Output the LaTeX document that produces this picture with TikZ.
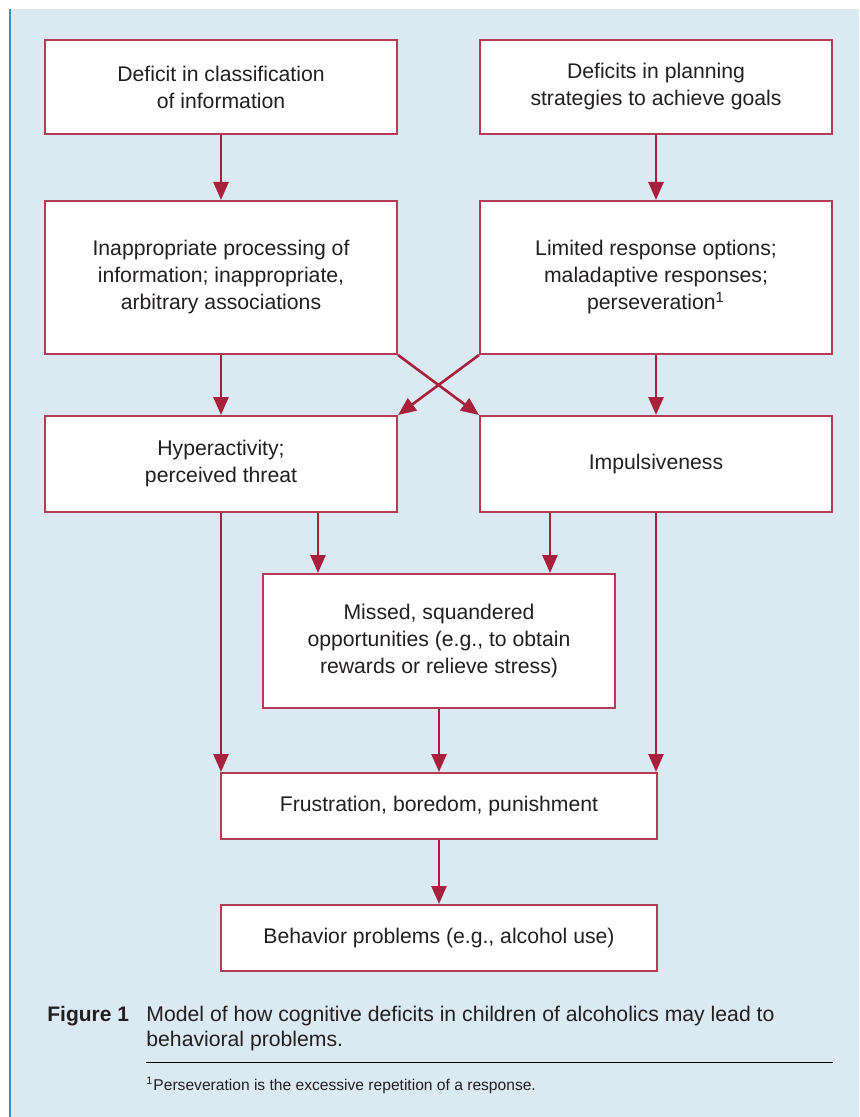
\documentclass[tikz,border=0pt]{standalone}
\usepackage{fontspec}
\setmainfont{Liberation Sans}
\usetikzlibrary{arrows.meta}
\definecolor{bgblue}{HTML}{DAE9F2}
\definecolor{edgeblue}{HTML}{3E90C2}
\definecolor{boxred}{HTML}{B73A57}
\definecolor{arrowred}{HTML}{A8203C}
\definecolor{textgray}{HTML}{231F20}

\begin{document}
\begin{tikzpicture}[x=0.5pt, y=-0.5pt,
  box/.style={draw=boxred, fill=white, line width=1pt, align=center, inner sep=0pt,
    text=textgray, font=\fontsize{10.6}{13.5}\selectfont},
  wide/.style={minimum width=176pt},
  arr/.style={draw=arrowred, line width=1.3pt, -{Triangle[width=7.5pt,length=9pt]}}]
\useasboundingbox (0,0) rectangle (859,1117);

%the background
\fill [bgblue] (9,9) rectangle (859,1117);
\draw [edgeblue, line width=1pt] (9.5,9) -- (9.5,1117);

%the top row
\node [box, wide, minimum height=47pt] (classify) at (221,87)
  {Deficit in classification\\of information};
\node [box, wide, minimum height=47pt] (planning) at (656,87)
  {Deficits in planning\\strategies to achieve goals};

%the second row
\node [box, wide, minimum height=76.5pt] (processing) at (221,277.5)
  {Inappropriate processing of\\information; inappropriate,\\arbitrary associations};
\node [box, wide, minimum height=76.5pt] (options) at (656,277.5)
  {Limited response options;\\maladaptive responses;\\perseveration\textsuperscript{1}};

%the third row
\node [box, wide, minimum height=48pt] (hyper) at (221,464)
  {Hyperactivity;\\perceived threat};
\node [box, wide, minimum height=48pt] (impulse) at (656,464)
  {Impulsiveness};

%the lower boxes
\node [box, wide, minimum height=67pt] (missed) at (439,641)
  {Missed, squandered\\opportunities (e.g., to obtain\\rewards or relieve stress)};
\node [box, minimum width=218pt, minimum height=33pt] (frustration) at (439,806)
  {Frustration, boredom, punishment};
\node [box, minimum width=218pt, minimum height=33pt] (behavior) at (439,938)
  {Behavior problems (e.g., alcohol use)};

%the arrows
\coordinate (leftdrop) at (318,0);
\coordinate (rightdrop) at (550,0);
\draw [arr] (classify) -- (processing);
\draw [arr] (planning) -- (options);
\draw [arr] (processing) -- (hyper);
\draw [arr] (options) -- (impulse);
\draw [arr] (processing.south east) -- (impulse.north west);
\draw [arr] (options.south west) -- (hyper.north east);
\draw [arr] (hyper.south) -- (hyper.south |- frustration.north);
\draw [arr] (leftdrop |- hyper.south) -- (leftdrop |- missed.north);
\draw [arr] (rightdrop |- impulse.south) -- (rightdrop |- missed.north);
\draw [arr] (impulse.south) -- (impulse.south |- frustration.north);
\draw [arr] (missed) -- (frustration);
\draw [arr] (frustration) -- (behavior);

%the caption
\node [anchor=base west, inner sep=0pt, text=textgray,
  font=\bfseries\fontsize{10.5}{12.5}\selectfont] (figlabel) at (47,1021) {Figure 1};
\node [anchor=base west, inner sep=0pt, text=textgray, align=left,
  font=\fontsize{10.6}{12.5}\selectfont] (caption) at (146,1046)
  {Model of how cognitive deficits in children of alcoholics may lead to\\behavioral problems.};
\draw [black, line width=0.5pt] (146,1062) -- (833,1062);
\node [anchor=base west, inner sep=0pt, text=textgray,
  font=\fontsize{7.8}{9}\selectfont] (footnote) at (146,1090)
  {\textsuperscript{1}Perseveration is the excessive repetition of a response.};
\end{tikzpicture}
\end{document}
